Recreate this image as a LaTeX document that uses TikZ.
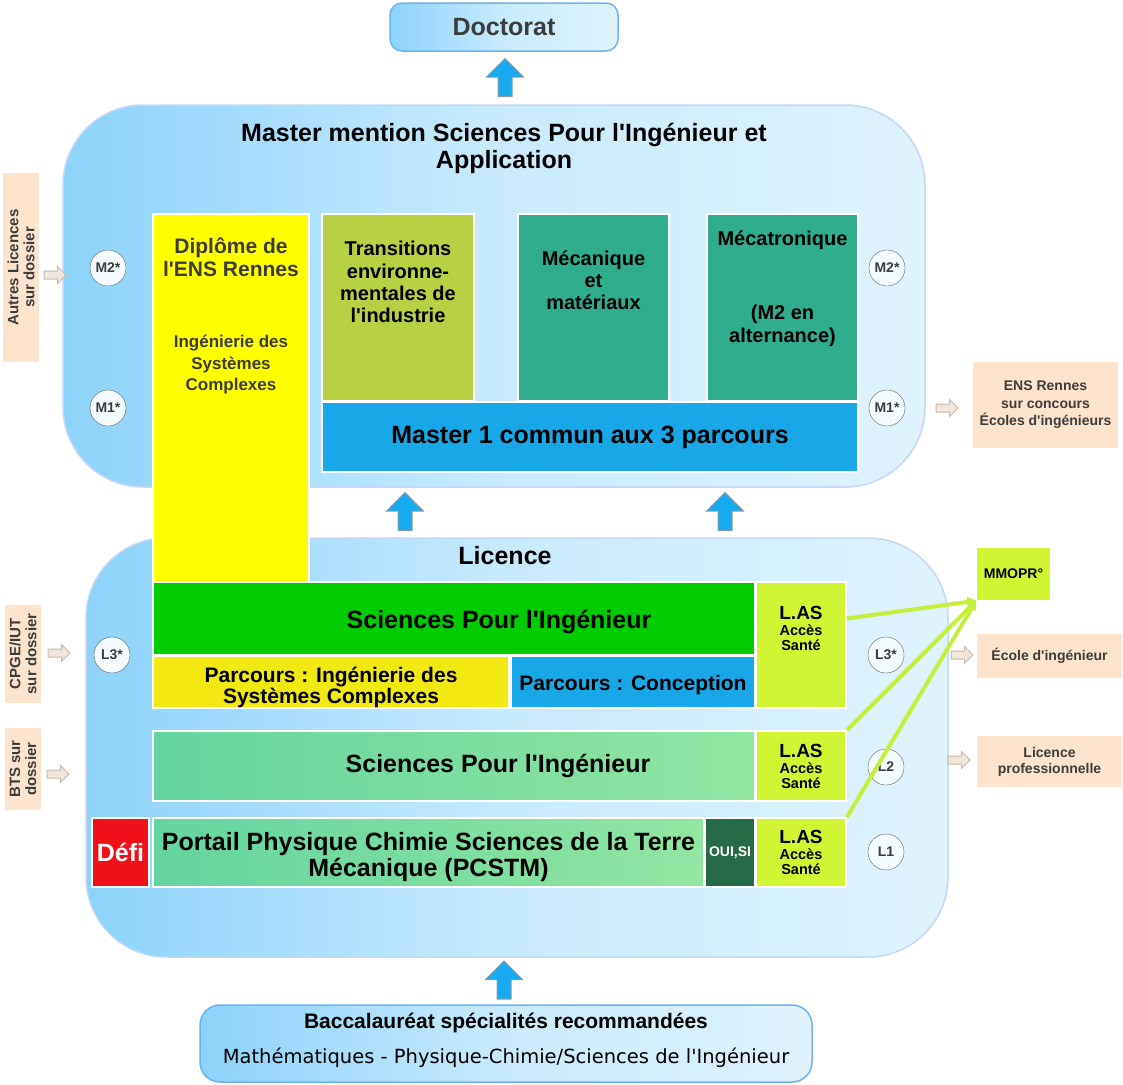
\documentclass[tikz,border=0pt]{standalone}
\usepackage{fontspec}
\setmainfont{Liberation Sans}[Ligatures=TeXOff]
\newfontfamily\bacfont{DejaVu Sans}
\usepackage{tikz}
\usetikzlibrary{arrows.meta,positioning,shapes.arrows}
\newcommand\fsz[2]{\fontsize{#1}{#2}\selectfont}
\newcommand\lastext{{\fsz{19}{16}L.AS}\\[1pt]Accès\\Santé}
\definecolor{sky_dark}{RGB}{140,211,251}
\definecolor{sky_mid}{RGB}{200,235,252}
\definecolor{sky_light}{RGB}{224,243,253}
\definecolor{sky_edge}{RGB}{198,214,246}
\definecolor{doc_edge}{RGB}{110,178,240}
\definecolor{txt_gray}{RGB}{60,60,60}
\definecolor{node_yell}{RGB}{255,255,0}
\definecolor{node_olive}{RGB}{184,208,68}
\definecolor{node_teal}{RGB}{47,173,141}
\definecolor{node_blue}{RGB}{24,168,232}
\definecolor{node_green}{RGB}{0,204,0}
\definecolor{node_gold}{RGB}{243,233,18}
\definecolor{node_lime}{RGB}{210,245,51}
\definecolor{node_mint1}{RGB}{100,212,160}
\definecolor{node_mint2}{RGB}{146,230,162}
\definecolor{node_dark}{RGB}{37,107,71}
\definecolor{node_red}{RGB}{240,16,24}
\definecolor{node_peach}{RGB}{251,227,205}
\definecolor{circ_fill}{RGB}{244,251,254}
\definecolor{circ_edge}{RGB}{100,100,100}
\definecolor{arr_fill}{RGB}{241,230,220}
\definecolor{arr_edge}{RGB}{200,185,170}
\definecolor{arr_blue}{RGB}{24,170,240}
\definecolor{arr_gray}{RGB}{140,155,165}
\definecolor{edge_lime}{RGB}{198,239,60}

\begin{document}
\begin{tikzpicture}[x=1pt,y=-1pt,font=\bfseries,
    sz/.style 2 args={minimum width=#1pt,minimum height=#2pt},
    fs/.style 2 args={font=\bfseries\fsz{#1}{#2}}]
    \tikzstyle{rbox}=[draw=sky_edge, line width=1.5pt, rounded corners=80pt, inner sep=0pt,
                      left color=sky_dark, right color=sky_light, middle color=sky_mid]
    \tikzstyle{blk}=[draw=white, line width=1.5pt, inner sep=0pt, align=center, text=black]
    \tikzstyle{side}=[fill=node_peach, inner sep=0pt, align=center, text=txt_gray]
    \tikzstyle{lvl}=[draw=circ_edge, circle, minimum size=36pt, inner sep=0pt, fill=circ_fill,
                     text=txt_gray, fs={14}{14}]
    \tikzstyle{sarr}=[single arrow, fill=arr_fill, draw=arr_edge, line width=1pt, inner xsep=0pt, inner ysep=3.5pt,
                      minimum height=22pt, minimum width=16pt, single arrow head extend=4.5pt]
    \tikzstyle{uarr}=[single arrow, rotate=90, fill=arr_blue, draw=arr_gray, line width=1pt, inner xsep=0pt, inner ysep=6.5pt,
                      minimum height=38pt, minimum width=36pt, single arrow head extend=11.5pt]
    \tikzstyle{lasline}=[draw=edge_lime, line width=4pt, -{Triangle[length=9pt,width=10pt]}]

    \path[use as bounding box, fill=white] (0,0) rectangle (1123,1084);

    % big frames
    \node[rbox, sz={862}{382}] (master) at (494,296) {};
    \node[rbox, sz={862}{419}] (licence) at (517,747.5) {};
    \node[rbox, rounded corners=12pt, draw=doc_edge, sz={228}{48}, text=txt_gray, fs={25}{28}] (doct) at (504,27) {Doctorat};
    \node[rbox, rounded corners=20pt, draw=doc_edge, sz={612}{77}] (bac) at (506,1043.5) {};
    \node[fs={21}{24}] (bac1) at (506,1023) {Baccalauréat spécialités recommandées};
    \node[font=\bacfont\fsz{19.5}{22}] (bac2) at (506,1058) {Mathématiques - Physique-Chimie/Sciences de l'Ingénieur};

    \node[align=center, fs={25}{27}] (mtitle) at (504,148.5) {Master mention Sciences Pour l'Ingénieur et\\Application};
    \node[fs={25}{27}] (ltitle) at (505,556) {Licence};

    % master
    \node[blk, fill=node_yell, sz={156}{368}] (dipl) at (231,398) {};
    \node[align=center, text=txt_gray, fs={21}{23}] (dipltxt) at (231,257.5) {Diplôme de\\l'ENS Rennes};
    \node[align=center, text=txt_gray, fs={17}{21.5}] (isctxt) at (231,365) {Ingénierie des\\Systèmes\\Complexes};
    \node[blk, fill=node_olive, sz={152}{187}] (trans) at (398,307.5) {};
    \node[align=center, fs={20}{22.3}] (transtxt) at (398,282) {Transitions\\environne-\\mentales de\\l'industrie};
    \node[blk, fill=node_teal, sz={151}{187}] (meca) at (593.5,307.5) {};
    \node[align=center, fs={20}{22}] (mecatxt) at (593.5,280.5) {Mécanique\\et\\matériaux};
    \node[blk, fill=node_teal, sz={151}{187}] (mtro) at (782.5,307.5) {};
    \node[fs={20}{22}] (mtrotxt) at (782.5,240) {Mécatronique};
    \node[align=center, fs={20}{22.5}] (alttxt) at (782.5,326) {(M2 en\\alternance)};
    \node[blk, fill=node_blue, sz={536}{70}, fs={25}{27}] (m1) at (590,437) {Master 1 commun aux 3 parcours};

    % licence
    \node[blk, fill=node_green, sz={602}{73}] (spi3) at (454,618.5) {};
    \node[fs={25}{27}] (spi3txt) at (499,622) {Sciences Pour l'Ingénieur};
    \node[blk, fill=node_gold, sz={356}{52}] (isc) at (331,682) {};
    \node[align=center, fs={21}{21}] (isctxt2) at (331,687) {Parcours : Ingénierie des\\Systèmes Complexes};
    \node[blk, fill=node_blue, sz={244}{52}] (conc) at (633,682) {};
    \node[fs={21}{21}] (conctxt) at (633,685) {Parcours : Conception};
    \node[blk, fill=node_lime, sz={90}{126}] (las3) at (801,645) {};
    \node[align=center, fs={14.5}{15}] (las3txt) at (801,628) {\lastext};
    \node[blk, left color=node_mint1, right color=node_mint2, sz={602}{70}] (spi2) at (454,766) {};
    \node[fs={25}{27}] (spi2txt) at (498,766) {Sciences Pour l'Ingénieur};
    \node[blk, fill=node_lime, sz={90}{70}, fs={14.5}{15}] (las2) at (801,766) {\lastext};
    \node[blk, fill=node_red, text=white, sz={57}{69}, fs={25}{27}] (defi) at (120.5,852.5) {Défi};
    \node[blk, left color=node_mint1, right color=node_mint2, sz={551}{69}] (pcstm) at (428.5,852.5) {};
    \node[align=center, fs={25}{26}] (pcstmtxt) at (428.5,857) {Portail Physique Chimie Sciences de la Terre\\Mécanique (PCSTM)};
    \node[blk, fill=node_dark, text=white, sz={50}{69}, fs={14}{14}] (ouisi) at (730,852.5) {OUI,SI};
    \node[blk, fill=node_lime, sz={90}{69}, fs={14.5}{15}] (las1) at (801,852.5) {\lastext};

    % levels
    \node[lvl] (m2l) at (108,268) {M2*};
    \node[lvl] (m1l) at (108,408) {M1*};
    \node[lvl] (m2r) at (887,268) {M2*};
    \node[lvl] (m1r) at (887,408) {M1*};
    \node[lvl] (l3l) at (112,655) {L3*};
    \node[lvl] (l3r) at (886,655) {L3*};
    \node[lvl] (l2r) at (886,767) {L2};
    \node[lvl] (l1r) at (886,852) {L1};

    % entries and exits
    \node[side, rotate=90, sz={189}{36}, fs={15}{16}] (autres) at (21,267.5) {Autres Licences\\sur dossier};
    \node[side, rotate=90, sz={98}{36}, fs={15}{16}] (cpge) at (23,654) {CPGE/IUT\\sur dossier};
    \node[side, rotate=90, sz={82}{36}, fs={15}{16}] (bts) at (23,769) {BTS sur\\dossier};
    \node[side, sz={145}{86}, fs={14}{17.5}] (ensr) at (1045.5,405) {ENS Rennes\\sur concours\\Écoles d'ingénieurs};
    \node[side, sz={145}{44}, fs={14}{16}] (ecole) at (1049.5,656) {École d'ingénieur};
    \node[side, sz={145}{51}, fs={14}{16}] (lpro) at (1049.5,761.5) {Licence\\professionnelle};
    \node[blk, draw=none, fill=node_lime, sz={73}{52}, fs={14}{16}] (mmopr) at (1013.5,574) {MMOPR°};

    \node[sarr] (in1) at (53,275) {};
    \node[sarr] (in2) at (57,653) {};
    \node[sarr] (in3) at (56,774) {};
    \node[sarr] (out1) at (945,408) {};
    \node[sarr] (out2) at (960,655) {};
    \node[sarr] (out3) at (957,760) {};

    \node[uarr] (up1) at (505,81) {};
    \node[uarr] (up2) at (405,515) {};
    \node[uarr] (up3) at (725,515) {};
    \node[uarr] (up4) at (504,983.5) {};

    \draw[lasline] (las3.east |- spi3.center) -- (mmopr.south west);
    \draw[lasline] (las2.north east) -- (mmopr.south west);
    \draw[lasline] (las1.north east) -- (mmopr.south west);
\end{tikzpicture}
\end{document}
